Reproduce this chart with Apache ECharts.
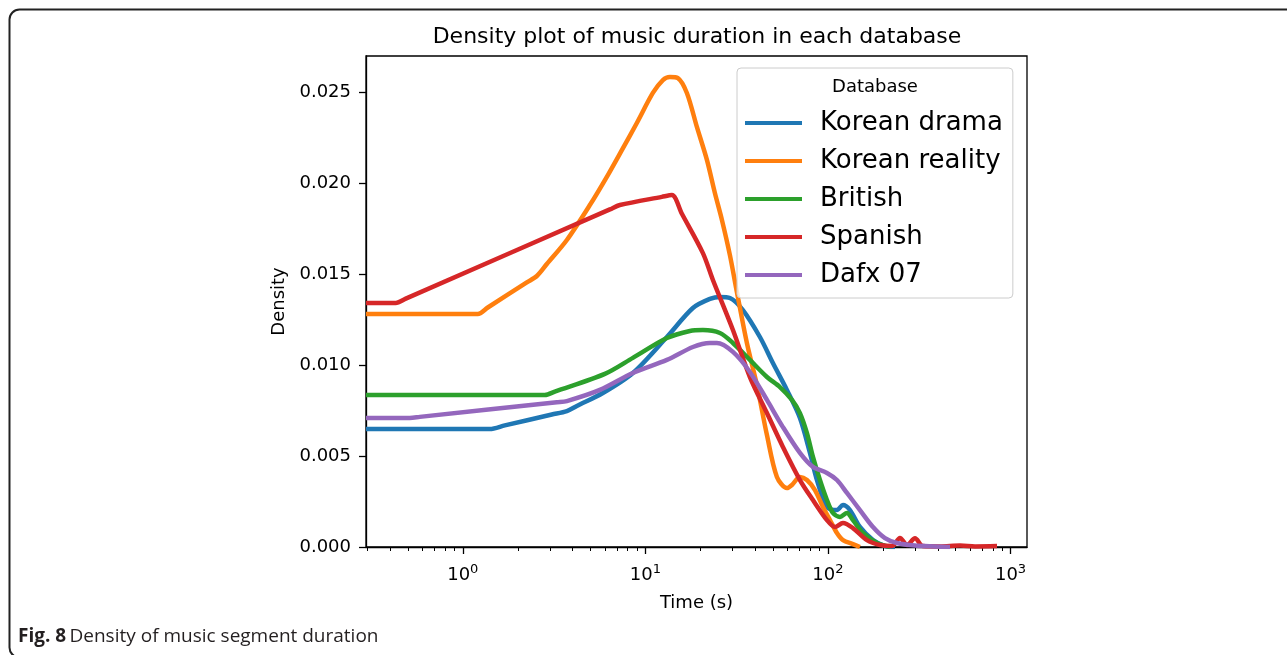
<!DOCTYPE html>
<html>
<head>
<meta charset="utf-8">
<script src="https://cdn.jsdelivr.net/npm/echarts@6/dist/echarts.min.js"></script>
<style>
  html, body { margin: 0; padding: 0; background: #ffffff; }
  #chart { width: 1287px; height: 655px; }
</style>
</head>
<body>
<div id="chart"></div>
<script>
// Kernel density estimates of music segment duration, per database.
// Each point is [duration in seconds, density].
const seriesNames = ['Korean drama', 'Korean reality', 'British', 'Spanish', 'Dafx 07'];
const seriesColors = ['#1f77b4', '#ff7f0e', '#2ca02c', '#d62728', '#9467bd'];

const koreanDrama = [
  [0.295, 0.00648], [1.239, 0.00648], [1.406, 0.00648], [1.699, 0.00668], [3.074, 0.00728],
  [3.715, 0.00747], [4.214, 0.00775], [5.851, 0.00846], [8.54, 0.00956],
  [13.12, 0.01154], [18.21, 0.01313], [22.57, 0.01363], [25.60, 0.01374], [29.04, 0.01368],
  [34.21, 0.01302], [42.40, 0.01154], [49.95, 0.01011], [59.60, 0.00863], [70.24, 0.00709],
  [79.70, 0.00517], [87.04, 0.00368], [98.74, 0.00220], [112.0, 0.00203], [120.9, 0.00231],
  [132.0, 0.00203], [149.7, 0.00110], [176.5, 0.00038], [205.3, 0.00005], [232.9, 0.0]
];

const koreanReality = [
  [0.295, 0.01280], [1.065, 0.01280], [1.208, 0.01280], [1.371, 0.01316], [2.242, 0.01454],
  [2.544, 0.01489], [2.886, 0.01555], [3.715, 0.01687], [4.966, 0.01879],
  [6.231, 0.02044], [7.434, 0.02181], [8.98, 0.02330], [10.99, 0.02495], [12.47, 0.02566],
  [13.62, 0.02583], [15.07, 0.02577], [16.88, 0.02495], [19.15, 0.02308], [21.73, 0.02127],
  [24.03, 0.01945], [26.26, 0.01797], [29.04, 0.01604], [31.72, 0.01401], [35.98, 0.01121],
  [40.83, 0.00890], [46.33, 0.00615], [52.54, 0.00385], [59.60, 0.00324], [63.50, 0.00341],
  [70.24, 0.00385], [76.74, 0.00368], [84.9, 0.00313], [93.9, 0.00220], [102.6, 0.00148],
  [112.0, 0.00077], [120.9, 0.00038], [137.1, 0.00016], [149.7, 0.0]
];

const british = [
  [0.295, 0.00835], [2.480, 0.00835], [2.814, 0.00835], [3.192, 0.00854], [5.999, 0.00951],
  [8.54, 0.01039], [13.12, 0.01148],
  [17.53, 0.01187], [20.66, 0.01192], [25.60, 0.01176], [30.17, 0.01121], [37.37, 0.01028],
  [46.33, 0.00934], [54.58, 0.00879], [63.50, 0.00808], [70.24, 0.00736], [76.74, 0.00626],
  [82.77, 0.00495], [90.40, 0.00368], [98.74, 0.00258], [106.5, 0.00187], [116.4, 0.00165],
  [127.1, 0.00187], [137.1, 0.00148], [155.5, 0.00077], [185.6, 0.00022], [218.7, 0.0]
];

const spanish = [
  [0.295, 0.01341], [0.3785, 0.01341], [0.429, 0.01341], [0.4873, 0.01365], [6.391, 0.01855],
  [7.249, 0.01879], [12.31, 0.01924], [13.97, 0.01934], [15.85, 0.01831], [20.66, 0.01615],
  [23.44, 0.01467], [30.17, 0.01192], [37.37, 0.00934], [46.33, 0.00736], [56.67, 0.00550],
  [70.24, 0.00368], [82.77, 0.00258], [98.74, 0.00148], [109.2, 0.00110], [120.9, 0.00132],
  [137.1, 0.00104], [163.6, 0.00038], [192.7, 0.00011], [224.3, 0.00005], [248.0, 0.00050],
  [271.0, 0.00011], [299.8, 0.00048], [331.6, 0.00005], [411.0, 0.00003], [528.8, 0.00008],
  [639.0, 0.00003], [843.4, 0.00005]
];

const dafx07 = [
  [0.295, 0.00709], [0.4516, 0.00709], [0.512, 0.00709], [0.5813, 0.00715], [3.274, 0.00796],
  [3.715, 0.00802], [5.632, 0.00863], [8.54, 0.00956],
  [13.12, 0.01028], [18.21, 0.01099], [22.57, 0.01121], [24.65, 0.01121], [30.17, 0.01072],
  [37.37, 0.00962], [46.33, 0.00808], [56.67, 0.00659], [70.24, 0.00517], [82.77, 0.00440],
  [98.74, 0.00407], [112.0, 0.00368], [127.1, 0.00297], [149.7, 0.00203], [176.5, 0.00110],
  [205.3, 0.00049], [238.8, 0.00022], [299.8, 0.00008], [385.8, 0.00003], [466.2, 0.0]
];

const seriesData = [koreanDrama, koreanReality, british, spanish, dafx07];

// Axis ticks
const xMajorTicks = [1, 10, 100, 1000];
const xMinorTicks = [0.3, 0.4, 0.5, 0.6, 0.7, 0.8, 0.9,
  2, 3, 4, 5, 6, 7, 8, 9, 20, 30, 40, 50, 60, 70, 80, 90,
  200, 300, 400, 500, 600, 700, 800, 900];
const yTicks = [0, 0.005, 0.010, 0.015, 0.020, 0.025];

const X_MIN = 0.295, X_MAX = 1231;
const Y_MIN = 0, Y_MAX = 0.02698;

const FONT = 'DejaVu Sans';

const chart = echarts.init(document.getElementById('chart'), null, { renderer: 'canvas' });

const option = {
  backgroundColor: '#ffffff',
  animation: false,
  grid: {
    left: 366, right: 260, top: 56, bottom: 108,
    show: true, borderColor: '#000', borderWidth: 1.3, backgroundColor: 'transparent'
  },
  xAxis: [
    {
      type: 'log', logBase: 10, min: X_MIN, max: X_MAX, position: 'bottom',
      name: 'Time (s)', nameLocation: 'middle', nameGap: 47,
      nameTextStyle: { fontFamily: FONT, fontSize: 18, color: '#000' },
      axisLine: { show: true, lineStyle: { color: '#000', width: 1.3 } },
      axisTick: { show: true, length: 7, inside: false, customValues: xMajorTicks,
        lineStyle: { color: '#000', width: 1.3 } },
      axisLabel: {
        show: true, margin: 16, customValues: xMajorTicks,
        formatter: v => '{b|10}{s|' + Math.round(Math.log10(v)) + '}',
        rich: {
          b: { fontFamily: FONT, fontSize: 18, color: '#000', lineHeight: 20, padding: [4, 0, 0, 0] },
          s: { fontFamily: FONT, fontSize: 13, color: '#000', lineHeight: 14, verticalAlign: 'top' }
        }
      },
      splitLine: { show: false },
      minorTick: { show: false }
    },
    {
      type: 'log', logBase: 10, min: X_MIN, max: X_MAX, position: 'bottom',
      axisLine: { show: false },
      axisTick: { show: true, length: 4, inside: false, customValues: xMinorTicks,
        lineStyle: { color: '#000', width: 1 } },
      axisLabel: { show: false },
      splitLine: { show: false }
    }
  ],
  yAxis: {
    type: 'value', min: Y_MIN, max: Y_MAX,
    name: 'Density', nameLocation: 'middle', nameGap: 70, nameRotate: 90,
    nameTextStyle: { fontFamily: FONT, fontSize: 18, color: '#000' },
    axisLine: { show: true, lineStyle: { color: '#000', width: 1.3 } },
    axisTick: { show: true, length: 7, inside: false, customValues: yTicks,
      lineStyle: { color: '#000', width: 1.3 } },
    axisLabel: {
      show: true, margin: 15, customValues: yTicks,
      fontFamily: FONT, fontSize: 18, color: '#000',
      formatter: v => v.toFixed(3)
    },
    splitLine: { show: false }
  },
  legend: {
    orient: 'vertical',
    left: 737, top: 68,
    padding: [42, 10, 10, 8],
    itemWidth: 57, itemHeight: 4, itemGap: 12,
    icon: 'rect',
    backgroundColor: 'rgba(255,255,255,0.8)',
    borderColor: '#cccccc', borderWidth: 1, borderRadius: 4,
    textStyle: { fontFamily: FONT, fontSize: 26, color: '#000', padding: [0, 0, 0, 13] },
    data: seriesNames
  },
  series: seriesNames.map((name, i) => ({
    name: name,
    type: 'line',
    xAxisIndex: 0,
    data: seriesData[i],
    showSymbol: false,
    symbol: 'none',
    smooth: 0.3,
    clip: true,
    color: seriesColors[i],
    lineStyle: { width: 4.5, color: seriesColors[i], join: 'round', cap: 'butt' },
    emphasis: { disabled: true }
  })),
  graphic: [
    {
      type: 'rect', z: 0, silent: true,
      shape: { x: 9.5, y: 9.5, width: 1320, height: 648, r: 10 },
      style: { fill: 'none', stroke: '#222', lineWidth: 2 }
    },
    {
      type: 'text', z: 100, x: 697, y: 37,
      style: { text: 'Density plot of music duration in each database',
        fontFamily: FONT, fontSize: 22, fill: '#000', align: 'center', verticalAlign: 'middle' }
    },
    {
      type: 'text', z: 100, x: 875, y: 87,
      style: { text: 'Database', fontFamily: FONT, fontSize: 18, fill: '#000',
        align: 'center', verticalAlign: 'middle' }
    },
    {
      type: 'text', z: 100, x: 18, y: 637,
      style: {
        text: '{b|Fig. 8} {r|Density of music segment duration}',
        verticalAlign: 'middle', align: 'left',
        rich: {
          b: { fontFamily: 'Open Sans', fontWeight: 'bold', fontSize: 19, fill: '#231f20' },
          r: { fontFamily: 'Open Sans', fontSize: 19, fill: '#231f20' }
        }
      }
    }
  ]
};

chart.setOption(option);
</script>
</body>
</html>
